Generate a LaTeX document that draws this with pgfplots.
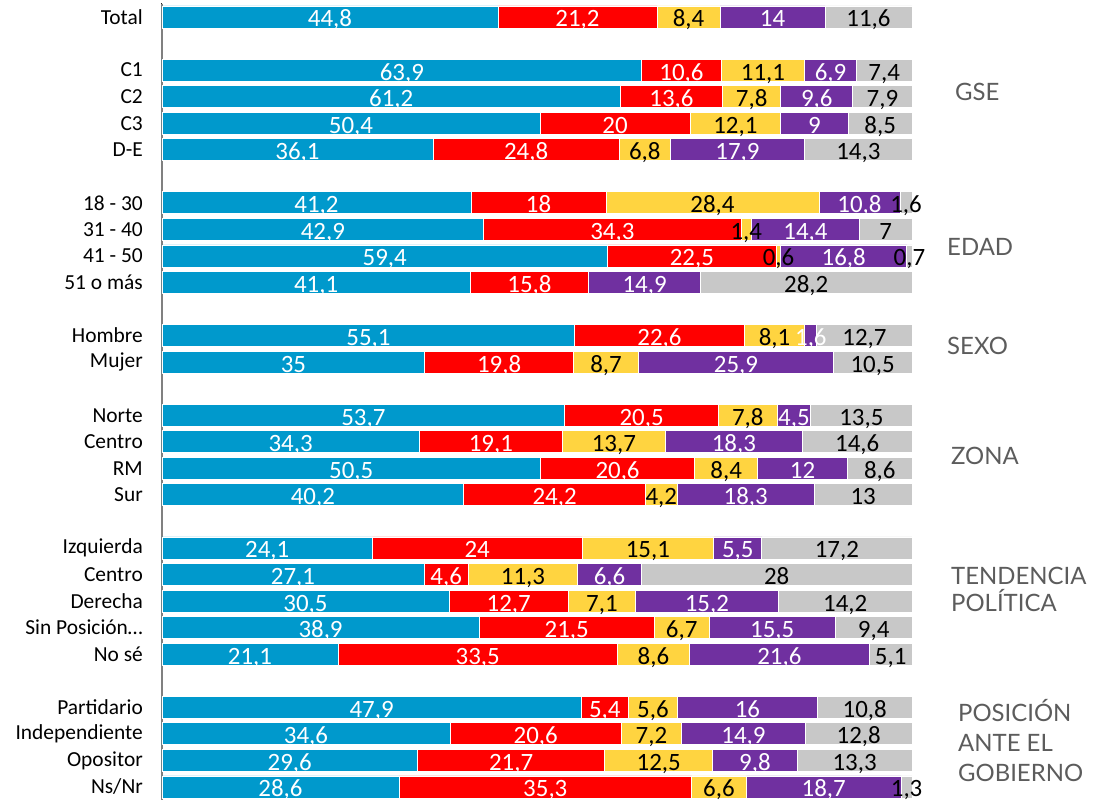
\documentclass[border=0pt]{standalone}
\usepackage{pgfplots}
\pgfplotsset{compat=1.18}
\usepackage{pgfplotstable}
\usepackage{fontspec}
\setmainfont{Carlito}
\newfontfamily\grpfont{Lato}
\definecolor{cblue}{RGB}{0,153,204}
\definecolor{cred}{RGB}{255,0,0}
\definecolor{cyellow}{RGB}{255,212,64}
\definecolor{cpurple}{RGB}{112,48,160}
\definecolor{cgray}{RGB}{200,200,200}
\definecolor{grptext}{RGB}{92,92,92}
\definecolor{axgray}{RGB}{128,128,128}

\pgfplotstableread{
y a b c d e
0 44.8 21.2 8.4 14 11.6
2 63.9 10.6 11.1 6.9 7.4
3 61.2 13.6 7.8 9.6 7.9
4 50.4 20 12.1 9 8.5
5 36.1 24.8 6.8 17.9 14.3
7 41.2 18 28.4 10.8 1.6
8 42.9 34.3 1.4 14.4 7
9 59.4 22.5 0.6 16.8 0.7
10 41.1 15.8 0 14.9 28.2
12 55.1 22.6 8.1 1.6 12.7
13 35 19.8 8.7 25.9 10.5
15 53.7 20.5 7.8 4.5 13.5
16 34.3 19.1 13.7 18.3 14.6
17 50.5 20.6 8.4 12 8.6
18 40.2 24.2 4.2 18.3 13
20 24.1 24 15.1 5.5 17.2
21 27.1 4.6 11.3 6.6 28
22 30.5 12.7 7.1 15.2 14.2
23 38.9 21.5 6.7 15.5 9.4
24 21.1 33.5 8.6 21.6 5.1
26 47.9 5.4 5.6 16 10.8
27 34.6 20.6 7.2 14.9 12.8
28 29.6 21.7 12.5 9.8 13.3
29 28.6 35.3 6.6 18.7 1.3
}\data

% shares of each row (100% stacked)
\newcommand{\mkcol}[2]{\pgfplotstablecreatecol[create col/expr={#2}]{#1}\data}
\mkcol{s}{\thisrow{a}+\thisrow{b}+\thisrow{c}+\thisrow{d}+\thisrow{e}}
\mkcol{pa}{100*\thisrow{a}/\thisrow{s}}
\mkcol{pb}{100*\thisrow{b}/\thisrow{s}}
\mkcol{pc}{100*\thisrow{c}/\thisrow{s}}
\mkcol{pd}{100*\thisrow{d}/\thisrow{s}}
\mkcol{pe}{100*\thisrow{e}/\thisrow{s}}
% label plots: pgfplots centres a bar label between 0 and x, so x = 2*centre
\mkcol{la}{\thisrow{pa}}
\mkcol{lb}{2*\thisrow{pa}+\thisrow{pb}}
\mkcol{lc}{2*(\thisrow{pa}+\thisrow{pb})+\thisrow{pc}}
\mkcol{ld}{2*(\thisrow{pa}+\thisrow{pb}+\thisrow{pc})+\thisrow{pd}}
\mkcol{le}{2*(\thisrow{pa}+\thisrow{pb}+\thisrow{pc}+\thisrow{pd})+\thisrow{pe}}

\pgfkeys{/pgf/number format/.cd, use comma, assume math mode=true}

\newcommand{\seg}[2]{%
  \addplot[fill=#2, draw=white, line width=0.8bp] table[y=y, x=#1] {\data};
}
\newcommand{\lab}[3]{%
  \addplot[stack plots=false, only marks, mark=*, mark size=0pt,
    mark options={draw=none, fill=none},
    point meta=explicit symbolic,
    nodes near coords={\ifdim\pgfplotspointmeta pt>0pt\pgfmathprintnumber{\pgfplotspointmeta}\fi},
    every node near coord/.append style={text=#3, anchor=base, inner sep=0pt,
      yshift=-10bp, font=\fontsize{25}{25}\selectfont}
  ] table[y=y, x=#2, meta=#1] {\data};
}

\begin{document}
\begin{tikzpicture}
\begin{axis}[
  scale only axis, width=750bp, height=796.5bp,
  xmin=0, xmax=100, ymin=-0.5, ymax=29.5, y dir=reverse,
  enlargelimits=false, clip=false,
  xbar stacked, bar width=22bp,
  axis x line=none, axis y line*=left,
  y axis line style={draw=axgray, line width=1.2bp},
  ytick={0,2,3,4,5,7,8,9,10,12,13,15,16,17,18,20,21,22,23,24,26,27,28,29},
  yticklabels={Total,C1,C2,C3,D-E,18 - 30,31 - 40,41 - 50,51 o más,Hombre,Mujer,Norte,Centro,{RM\hspace{2bp}},Sur,Izquierda,{Centro\hspace{5bp}},Derecha,{Sin Posición…\hspace{-12bp}},No sé,{Partidario\hspace{5bp}},Independiente,Opositor,Ns/Nr},
  major tick length=0pt,
  yticklabel style={font=\fontsize{21.5}{21.5}\selectfont, inner sep=0pt, xshift=-19bp, text=black},
]
\seg{pa}{cblue}
\seg{pb}{cred}
\seg{pc}{cyellow}
\seg{pd}{cpurple}
\seg{pe}{cgray}
\lab{a}{la}{white}
\lab{b}{lb}{white}
\lab{c}{lc}{black}
\lab{d}{ld}{white}
\lab{e}{le}{black}

\coordinate (BL) at (axis cs:0,29.5);
\coordinate (TR) at (axis cs:100,-0.5);

\tikzset{grp/.style={anchor=base west, inner sep=0pt, text=grptext, font=\grpfont\fontsize{24}{24}\selectfont, yshift=-9bp}}
\node[grp] at (axis cs:105.73,2.8) {GSE};
\node[grp] at (axis cs:104.67,8.65) {EDAD};
\node[grp] at (axis cs:104.67,12.36) {SEXO};
\node[grp] at (axis cs:105.2,16.5) {ZONA};
\node[grp] at (axis cs:105.2,21.03) {TENDENCIA};
\node[grp] at (axis cs:105.2,22.06) {POLÍTICA};
\node[grp] at (axis cs:106.13,26.2) {POSICIÓN};
\node[grp] at (axis cs:106.13,27.33) {ANTE EL};
\node[grp] at (axis cs:106.13,28.44) {GOBIERNO};
\end{axis}
\pgfresetboundingbox
\path[use as bounding box] ([xshift=-162bp,yshift=-1.8bp]BL) rectangle ([xshift=199bp,yshift=3.7bp]TR);
\end{tikzpicture}
\end{document}
